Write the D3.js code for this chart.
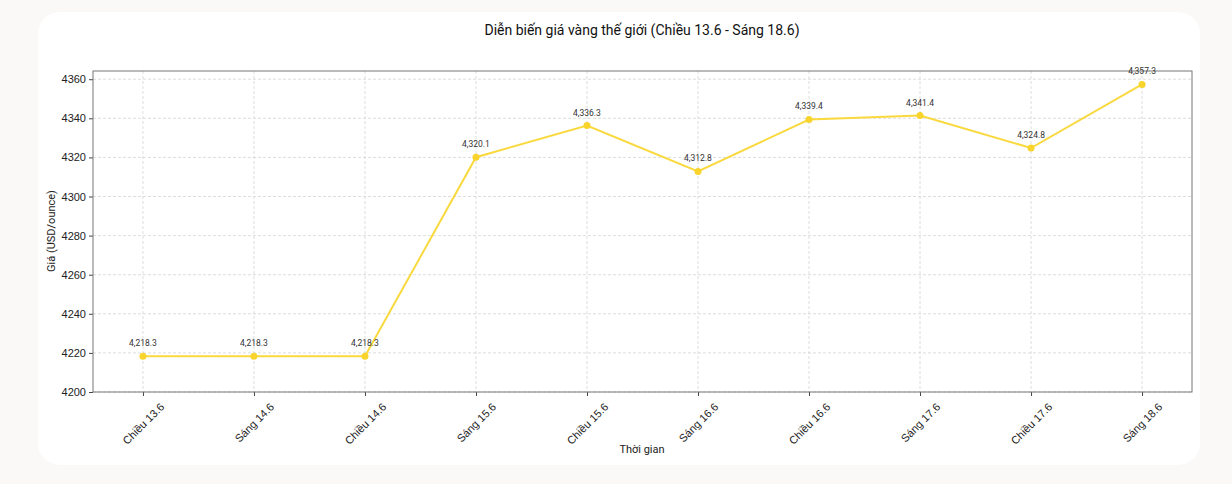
<!DOCTYPE html>
<html>
<head>
<meta charset="utf-8">
<script src="https://cdn.jsdelivr.net/npm/d3@7"></script>
<style>
  body { margin: 0; background: #fbf8f8; }
  svg { display: block; font-family: Roboto, "Open Sans", sans-serif; }
</style>
</head>
<body>
<svg id="chart" width="1232" height="484"></svg>
<script>
// data
const categories = ["Chiều 13.6", "Sáng 14.6", "Chiều 14.6", "Sáng 15.6", "Chiều 15.6",
  "Sáng 16.6", "Chiều 16.6", "Sáng 17.6", "Chiều 17.6", "Sáng 18.6"]
const prices = [4218.3, 4218.3, 4218.3, 4320.1, 4336.3, 4312.8, 4339.4, 4341.4, 4324.8, 4357.3]
const yTicks = [4200, 4220, 4240, 4260, 4280, 4300, 4320, 4340, 4360]

const titleText = "Diễn biến giá vàng thế giới (Chiều 13.6 - Sáng 18.6)"
const xLabel = "Thời gian"
const yLabel = "Giá (USD/ounce)"

let svg = d3.select("#chart")

// card
svg.append("rect")
  .attr("x", 38).attr("y", 12)
  .attr("width", 1162).attr("height", 453)
  .attr("rx", 22).attr("fill", "#ffffff")

let plot = { left: 93, right: 1192, top: 71, bottom: 392 }

let x = d3.scaleLinear()
  .domain([-0.45, categories.length - 1 + 0.45])
  .range([plot.left, plot.right])

let y = d3.scaleLinear()
  .domain([4200, 4364.2])
  .range([plot.bottom, plot.top])

/* ---------- grid ---------- */
let grid = svg.append("g")
grid.selectAll(".gx").data(categories).enter()
  .append("line")
  .attr("x1", (d, i) => x(i)).attr("x2", (d, i) => x(i))
  .attr("y1", plot.top).attr("y2", plot.bottom)
  .attr("stroke", "#d4d4d4").attr("stroke-width", 0.8)
  .attr("stroke-dasharray", "3,2")
grid.selectAll(".gy").data(yTicks).enter()
  .append("line")
  .attr("x1", plot.left).attr("x2", plot.right)
  .attr("y1", d => y(d)).attr("y2", d => y(d))
  .attr("stroke", "#d4d4d4").attr("stroke-width", 0.8)
  .attr("stroke-dasharray", "3,2")

/* ---------- axes ---------- */
let yAxis = svg.append("g")
  .attr("transform", `translate(${plot.left},0)`)
  .call(d3.axisLeft(y).tickValues(yTicks).tickSize(4).tickPadding(3).tickFormat(d3.format("d")))
yAxis.select(".domain").remove()
yAxis.selectAll("line").attr("stroke", "#444")
yAxis.selectAll("text").attr("font-size", 11).attr("fill", "#222")

let xAxis = svg.append("g")
  .attr("transform", `translate(0,${plot.bottom})`)
  .call(d3.axisBottom(x).tickValues(d3.range(categories.length)).tickSize(4)
    .tickFormat(i => categories[i]))
xAxis.select(".domain").remove()
xAxis.selectAll("line").attr("stroke", "#444")
// rotated labels centred under the tick (bbox centre on tick, like matplotlib)
xAxis.selectAll("text")
  .attr("font-size", 11).attr("fill", "#222")
  .attr("text-anchor", "middle")
  .attr("dy", "0.35em").attr("y", 0)
  .attr("transform", function () {
    let len = this.getComputedTextLength()
    let h = (len + 11) * Math.SQRT1_2
    return `translate(0,${9 + h / 2}) rotate(-45)`
  })

// frame
svg.append("rect")
  .attr("x", plot.left).attr("y", plot.top)
  .attr("width", plot.right - plot.left).attr("height", plot.bottom - plot.top)
  .attr("fill", "none").attr("stroke", "#777").attr("stroke-width", 1)

/* ---------- line ---------- */
let line = d3.line()
  .x((d, i) => x(i))
  .y(d => y(d))

svg.append("path")
  .datum(prices)
  .attr("d", line)
  .attr("fill", "none")
  .attr("stroke", "#f9d93e")
  .attr("stroke-width", 2)

svg.append("g").selectAll("circle").data(prices).enter()
  .append("circle")
  .attr("cx", (d, i) => x(i)).attr("cy", d => y(d))
  .attr("r", 3.5).attr("fill", "#f9d42c")

svg.append("g").selectAll("text").data(prices).enter()
  .append("text")
  .attr("x", (d, i) => x(i)).attr("y", d => y(d) - 10)
  .attr("text-anchor", "middle")
  .attr("font-size", 8.5).attr("fill", "#333")
  .text(d => d3.format(",.1f")(d))

/* ---------- labels ---------- */
svg.append("text")
  .attr("x", 642).attr("y", 35)
  .attr("text-anchor", "middle")
  .attr("font-size", 14).attr("fill", "#111")
  .text(titleText)

svg.append("text")
  .attr("x", 642).attr("y", 453)
  .attr("text-anchor", "middle")
  .attr("font-size", 11).attr("fill", "#222")
  .text(xLabel)

svg.append("text")
  .attr("transform", "translate(55,231) rotate(-90)")
  .attr("text-anchor", "middle")
  .attr("font-size", 11).attr("fill", "#222")
  .text(yLabel)
</script>
</body>
</html>
